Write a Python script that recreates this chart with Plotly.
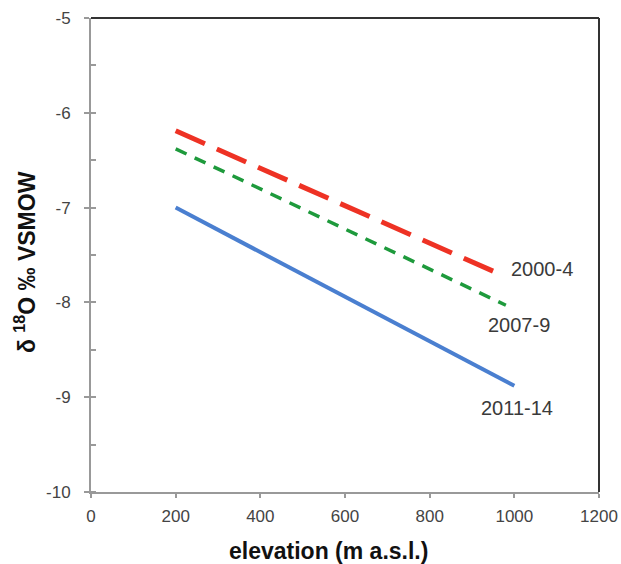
import plotly.graph_objects as go

# Data
series_names = ["2000-4", "2007-9", "2011-14"]
x_2000_4 = [200, 970]
y_2000_4 = [-6.19, -7.71]
x_2007_9 = [200, 980]
y_2007_9 = [-6.38, -8.03]
x_2011_14 = [200, 1000]
y_2011_14 = [-7.00, -8.88]

label_x = [1066, 1011, 1007]
label_y = [-7.65, -8.24, -9.11]

x_ticks = [0, 200, 400, 600, 800, 1000, 1200]
x_ticktext = ["0", "200", "400", "600", "800", "1000", "1200"]
y_ticks = [-10, -9, -8, -7, -6, -5]
y_ticktext = ["-10", "-9", "-8", "-7", "-6", "-5"]

FONT = "Liberation Sans, Arial"

# body margin removed via post_script, so window pixels == figure pixels
W, H = 621, 564
PL, PR, PT, PB = 91, 599, 18, 492  # plot area in window pixels
l, t = PL, PT
r = W - PR
b = H - PB
pw, ph = W - l - r, H - t - b


def px(xp):
    return (xp - l) / pw


def py(yp):
    return (H - b - yp) / ph


fig = go.Figure()
fig.add_trace(go.Scatter(x=x_2000_4, y=y_2000_4, mode="lines", name=series_names[0],
                         line=dict(color="#ee3224", width=5, dash="32px,13px")))
fig.add_trace(go.Scatter(x=x_2007_9, y=y_2007_9, mode="lines", name=series_names[1],
                         line=dict(color="#1e9a3c", width=3.5, dash="12px,9px")))
fig.add_trace(go.Scatter(x=x_2011_14, y=y_2011_14, mode="lines", name=series_names[2],
                         line=dict(color="#4a7fd0", width=4)))

for name, lx, ly in zip(series_names, label_x, label_y):
    fig.add_annotation(x=lx, y=ly, text=name, showarrow=False, xref="x", yref="y",
                       xanchor="center", yanchor="middle",
                       font=dict(family=FONT, size=20, color="#3a3a3a"))

fig.update_layout(
    width=W, height=H,
    margin=dict(l=l, r=r, t=t, b=b, autoexpand=False),
    paper_bgcolor="white", plot_bgcolor="white",
    showlegend=False,
    font=dict(family=FONT, size=17, color="#444"),
    xaxis=dict(range=[0, 1200], tickvals=x_ticks, ticktext=x_ticktext,
               showgrid=False, zeroline=False, automargin=False,
               showline=True, linecolor="#999", linewidth=2,
               ticks="outside", ticklen=4, tickcolor="#999", tickwidth=1.5,
               ticklabelstandoff=4,
               tickfont=dict(family=FONT, size=17, color="#444")),
    yaxis=dict(range=[-10, -5], tickvals=y_ticks, ticktext=y_ticktext,
               showgrid=False, zeroline=False, automargin=False,
               showline=True, linecolor="#999", linewidth=2,
               ticks="outside", ticklen=5, tickcolor="#999", tickwidth=1.5,
               ticklabelstandoff=10,
               minor=dict(ticks="inside", dtick=0.5, ticklen=5, tickcolor="#999", tickwidth=1.5),
               tickfont=dict(family=FONT, size=17, color="#444")),
)

fig.add_annotation(x=px(328), y=py(551), xref="paper", yref="paper",
                   xanchor="center", yanchor="middle",
                   text="<b>elevation (m a.s.l.)</b>", showarrow=False,
                   font=dict(family=FONT, size=23, color="#111"))
fig.add_annotation(x=px(25), y=py(262), xref="paper", yref="paper",
                   xanchor="center", yanchor="middle",
                   text="<b>δ <sup>18</sup>O ‰ VSMOW</b>", showarrow=False, textangle=-90,
                   font=dict(family=FONT, size=23, color="#111"))

# top and right frame lines
fig.add_shape(type="line", xref="paper", yref="paper", x0=0, x1=1, y0=1, y1=1,
              line=dict(color="#333", width=2))
fig.add_shape(type="line", xref="paper", yref="paper", x0=1, x1=1, y0=0, y1=1,
              line=dict(color="#333", width=2))

fig.write_html("out.html",
               config={"displayModeBar": False},
               post_script="document.body.style.margin='0';document.body.style.overflow='hidden';")
